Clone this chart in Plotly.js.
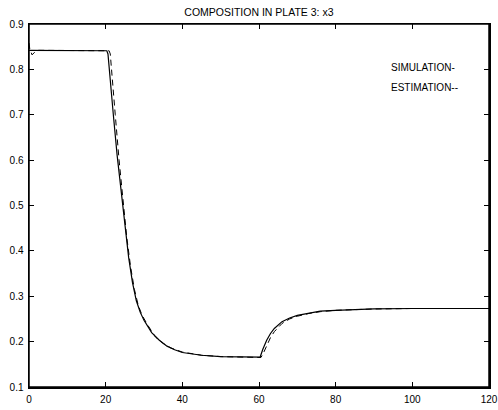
<!DOCTYPE html>
<html>
<head>
<meta charset="utf-8">
<script src="https://cdn.plot.ly/plotly-3.0.1.min.js"></script>
<style>html,body{margin:0;padding:0;background:#fff;}#chart{width:498px;height:410px;}</style>
</head>
<body>
<div id="chart"></div>
<script>
var simX = [0, 20, 20.3, 20.6, 21, 22, 23, 24, 25, 26, 27, 28, 29, 30, 32, 34, 36, 38, 40, 45, 50, 55, 60, 60.3, 61, 62, 63, 64, 66, 68, 70, 73, 76, 80, 85, 90, 100, 120];
var simY = [0.842, 0.842, 0.841, 0.834, 0.80, 0.70, 0.61, 0.53, 0.45, 0.385, 0.33, 0.29, 0.265, 0.247, 0.22, 0.203, 0.19, 0.182, 0.176, 0.170, 0.167, 0.166, 0.165, 0.166, 0.183, 0.203, 0.218, 0.229, 0.244, 0.252, 0.258, 0.263, 0.267, 0.269, 0.271, 0.272, 0.273, 0.273];

var estX = [0, 0.2, 0.8, 1.5, 2.5, 20.5, 20.9, 21.2, 21.5, 22.5, 23.5, 24.5, 25.5, 26.5, 27.5, 28.5, 29.5, 31, 33, 35, 37, 40, 45, 50, 60.5, 61, 62, 63, 64, 66, 68, 70, 73, 76, 80, 85, 90, 100, 120];
var estY = [0.858, 0.845, 0.832, 0.838, 0.842, 0.842, 0.841, 0.834, 0.80, 0.70, 0.60, 0.51, 0.43, 0.365, 0.315, 0.28, 0.258, 0.236, 0.21, 0.196, 0.186, 0.177, 0.170, 0.167, 0.165, 0.172, 0.192, 0.209, 0.222, 0.240, 0.250, 0.256, 0.262, 0.266, 0.269, 0.271, 0.272, 0.273, 0.273];

var titleText = "COMPOSITION IN PLATE 3: x3";
var labelSim = "SIMULATION-";
var labelEst = "ESTIMATION--";

var traces = [
  {x: simX, y: simY, type: "scatter", mode: "lines", line: {color: "#000", width: 1.2}, name: "sim", hoverinfo: "none", cliponaxis: false},
  {x: estX, y: estY, type: "scatter", mode: "lines", line: {color: "#000", width: 1, dash: "6px,4px"}, name: "est", hoverinfo: "none", cliponaxis: false}
];

var fontFam = "Liberation Sans, Arial, sans-serif";
var axisCommon = {
  showgrid: false, zeroline: false, showline: true, linecolor: "#000", linewidth: 1.5,
  mirror: "ticks", ticks: "inside", ticklen: 5, tickcolor: "#000", tickwidth: 1,
  tickfont: {family: fontFam, size: 10, color: "#000"}
};

var layout = {
  width: 498, height: 410,
  margin: {l: 29, r: 9, t: 24, b: 23},
  paper_bgcolor: "#fff", plot_bgcolor: "#fff",
  showlegend: false,
  title: {text: titleText, font: {family: fontFam, size: 10.5, color: "#000"}, x: 0.52, xanchor: "center", y: 0.97, yanchor: "middle"},
  xaxis: Object.assign({}, axisCommon, {range: [0, 120], tickvals: [0, 20, 40, 60, 80, 100, 120], ticklabelstandoff: 2}),
  yaxis: Object.assign({}, axisCommon, {range: [0.1, 0.9], tickvals: [0.1, 0.2, 0.3, 0.4, 0.5, 0.6, 0.7, 0.8, 0.9], tickformat: ".1f", ticklabelstandoff: 2}),
  shapes: [
    {type: "rect", xref: "paper", yref: "paper", x0: 0, x1: 1, y0: 0, y1: 1, line: {color: "#000", width: 1.5}, layer: "above"}
  ],
  annotations: [
    {x: 93.9, y: 0.805, xref: "x", yref: "y", text: labelSim, showarrow: false, xanchor: "left", yanchor: "middle", font: {family: fontFam, size: 10, color: "#000"}},
    {x: 93.9, y: 0.761, xref: "x", yref: "y", text: labelEst, showarrow: false, xanchor: "left", yanchor: "middle", font: {family: fontFam, size: 10, color: "#000"}}
  ]
};

Plotly.newPlot("chart", traces, layout, {displayModeBar: false, staticPlot: true});
</script>
</body>
</html>
